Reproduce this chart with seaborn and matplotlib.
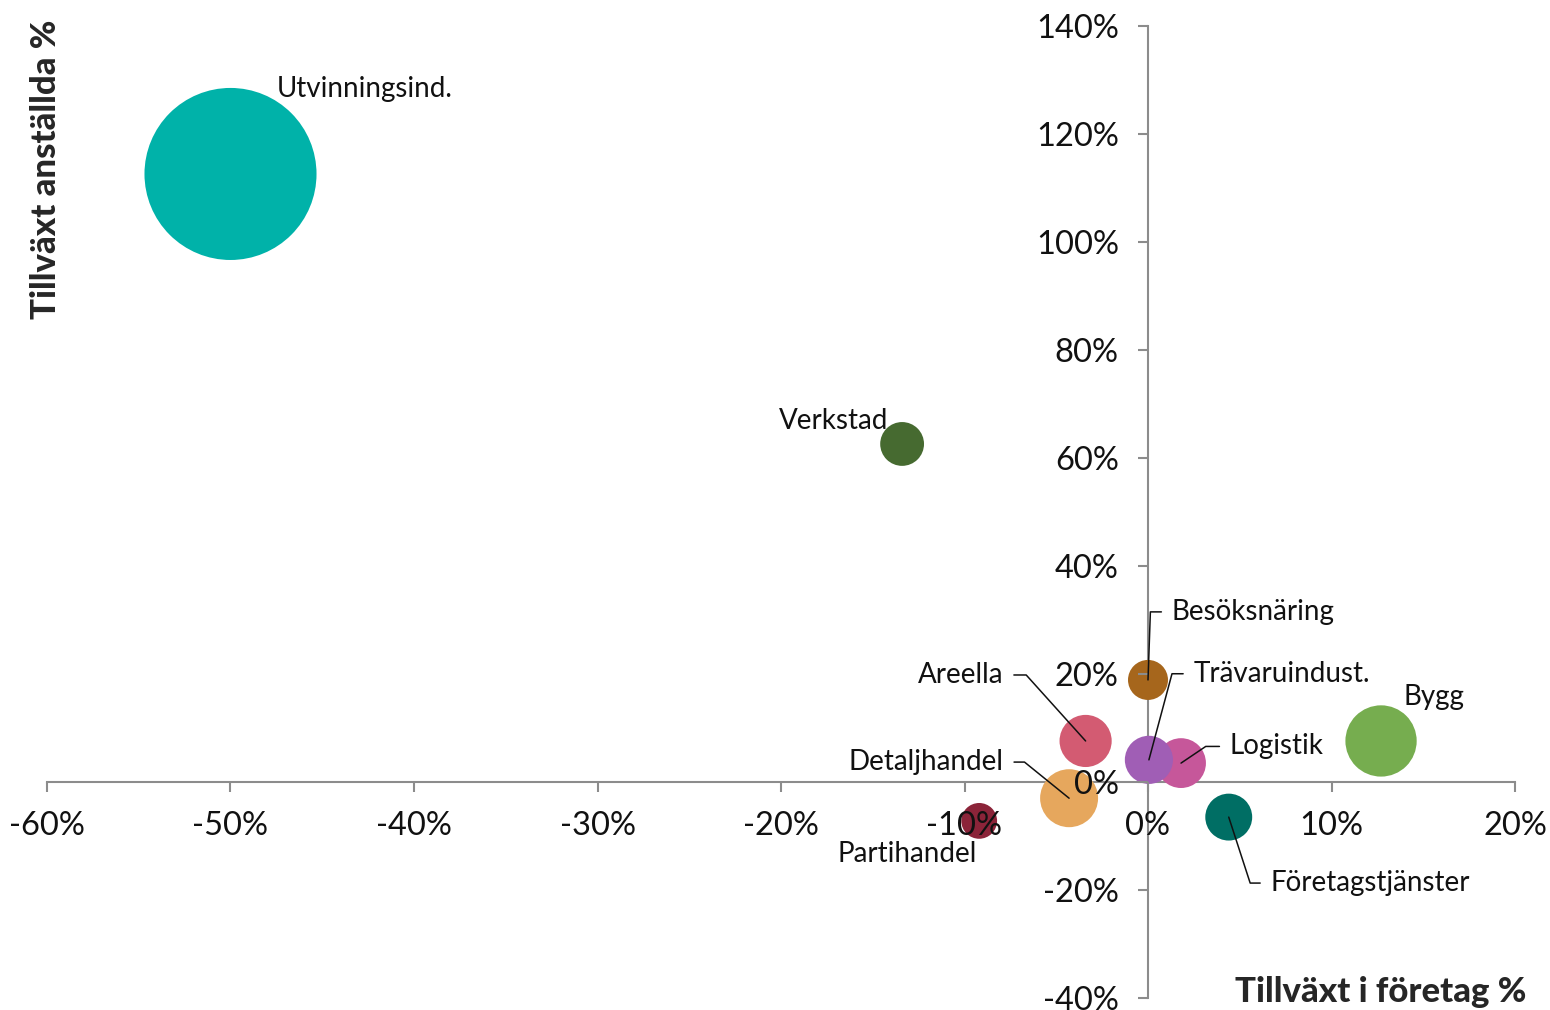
import pandas as pd
import numpy as np
import seaborn as sns
import matplotlib.pyplot as plt
from matplotlib.ticker import FuncFormatter, MultipleLocator

# data
branscher = ["Utvinningsind.", "Verkstad", "Besöksnäring", "Areella", "Logistik",
             "Trävaruindust.", "Bygg", "Detaljhandel", "Partihandel", "Företagstjänster"]
tillvaxt_foretag = [-50.0, -13.4, 0.0, -3.4, 1.8, 0.05, 12.7, -4.3, -9.2, 4.4]
tillvaxt_anstallda = [112.6, 62.6, 18.9, 7.6, 3.5, 4.1, 7.6, -3.0, -7.2, -6.5]
storlek = [7400, 480, 400, 680, 620, 580, 1270, 840, 320, 550]
farger = ["#00B2A9", "#466A30", "#A6661C", "#D35B72", "#C6579A",
          "#A05EB5", "#76AD4F", "#E6A75D", "#8B2439", "#006E64"]

df = pd.DataFrame({"bransch": branscher, "foretag": tillvaxt_foretag,
                   "anstallda": tillvaxt_anstallda, "storlek": storlek})

# label placement: offset in points, alignment, leader line angle (None = no line)
etiketter = {
    "Utvinningsind.": ((33, 61), "left", None),
    "Verkstad": ((-10, 16.5), "right", None),
    "Besöksnäring": ((17, 49), "left", 88),
    "Trävaruindust.": ((32, 62), "left", 75),
    "Areella": ((-59, 47.5), "right", 132),
    "Detaljhandel": ((-47, 26), "right", 141),
    "Logistik": ((35, 12), "left", 34),
    "Bygg": ((16, 32), "left", None),
    "Partihandel": ((-2, -24), "right", None),
    "Företagstjänster": ((30, -47.5), "left", 108),
}

sns.set_style("white")
plt.rcParams['font.family'] = ['Lato', 'DejaVu Sans']

fig = plt.figure(figsize=(15.5, 10.1), dpi=100)
ax = fig.add_axes([47/1550, 12/1010, 1468/1550, 972/1010])

smax = max(storlek) * 2.0736
sns.scatterplot(data=df, x="foretag", y="anstallda", hue="bransch", palette=farger,
                size="storlek", sizes=(0, smax), size_norm=(0, max(storlek)),
                linewidth=0, alpha=1, legend=False, ax=ax, zorder=3)

ax.set_xlim(-60, 20)
ax.set_ylim(-40, 140)
ax.xaxis.set_major_locator(MultipleLocator(10))
ax.yaxis.set_major_locator(MultipleLocator(20))
pct = FuncFormatter(lambda v, p: f"{v:.0f}%")
ax.xaxis.set_major_formatter(pct)
ax.yaxis.set_major_formatter(pct)

for s in ["top", "right"]:
    ax.spines[s].set_visible(False)
for s in ["left", "bottom"]:
    ax.spines[s].set_position(("data", 0))
    ax.spines[s].set_color("#8c8c8c")
    ax.spines[s].set_linewidth(1.5)
    ax.spines[s].set_zorder(2)

ax.tick_params(axis="x", bottom=True, direction="out", length=7, width=1.5,
               color="#8c8c8c", labelsize=23.5, pad=14, labelcolor="#111111")
ax.tick_params(axis="y", left=True, direction="out", length=7, width=1.5,
               color="#8c8c8c", labelsize=23.5, pad=14, labelcolor="#111111")
ax.xaxis.set_zorder(4)
ax.yaxis.set_zorder(4)

ax.set_xlabel("Tillväxt i företag %", fontsize=25, fontweight="black",
              ha="right", va="center")
ax.xaxis.set_label_coords(1.008, 0.006)
ax.set_ylabel("Tillväxt anställda %", fontsize=25, fontweight="black",
              ha="center", va="center")
ax.yaxis.set_label_coords(-0.001, 0.853)

for namn, x, y in zip(branscher, tillvaxt_foretag, tillvaxt_anstallda):
    (dx, dy), ha, vinkel = etiketter[namn]
    kw = {}
    if vinkel is not None:
        kw["arrowprops"] = dict(arrowstyle="-", color="#111111", lw=1.1,
                                shrinkA=5, shrinkB=0,
                                relpos=(0, 0.5) if ha == "left" else (1, 0.5),
                                connectionstyle=f"angle,angleA=0,angleB={vinkel},rad=0")
    ax.annotate(namn, xy=(x, y), xytext=(dx, dy), textcoords="offset points",
                ha=ha, va="center", fontsize=20, color="#111111", zorder=5, **kw)

fig.savefig("out.png", dpi=100)
